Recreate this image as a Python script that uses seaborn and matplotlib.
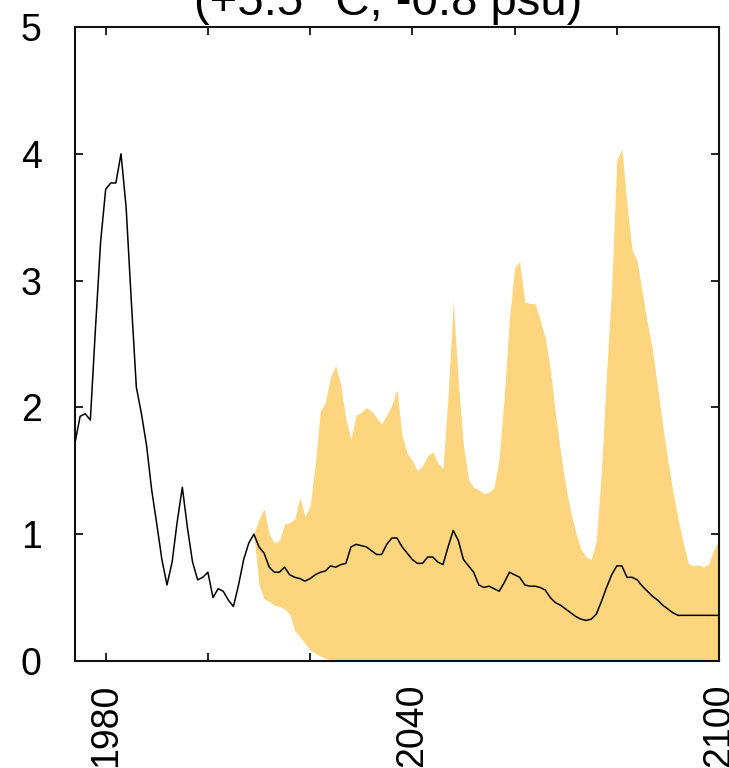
import numpy as np
import pandas as pd
import matplotlib
matplotlib.use("Agg")
import matplotlib.pyplot as plt
import seaborn as sns

# Historical reconstruction, 1974-2009
hist_years = list(range(1974, 2010))
hist_values = [1.72, 1.93, 1.95, 1.90, 2.62, 3.30, 3.72, 3.77, 3.77, 4.00,
               3.58, 2.85, 2.16, 1.95, 1.70, 1.35, 1.08, 0.80, 0.60, 0.78,
               1.10, 1.37, 1.05, 0.78, 0.64, 0.66, 0.70, 0.50, 0.57, 0.55,
               0.48, 0.43, 0.60, 0.80, 0.93, 1.00]

# Scenario projection, 2010-2100: ensemble mean
proj_years = list(range(2010, 2101))
proj_mean = [0.90, 0.85, 0.74, 0.70, 0.70, 0.74, 0.68, 0.66, 0.65, 0.63,
             0.65, 0.68, 0.70, 0.71, 0.75, 0.74, 0.76, 0.77, 0.90, 0.92,
             0.91, 0.90, 0.87, 0.84, 0.84, 0.92, 0.97, 0.97, 0.90, 0.85,
             0.80, 0.77, 0.77, 0.82, 0.82, 0.78, 0.76, 0.90, 1.03, 0.95,
             0.80, 0.75, 0.70, 0.60, 0.58, 0.59, 0.57, 0.55, 0.62, 0.70,
             0.68, 0.66, 0.60, 0.59, 0.59, 0.58, 0.56, 0.50, 0.46, 0.44,
             0.41, 0.38, 0.35, 0.33, 0.32, 0.33, 0.37, 0.47, 0.58, 0.68,
             0.75, 0.75, 0.66, 0.66, 0.64, 0.59, 0.55, 0.51, 0.48, 0.44,
             0.41, 0.38, 0.36, 0.36, 0.36, 0.36, 0.36, 0.36, 0.36, 0.36,
             0.36]

# Ensemble spread, 2009-2100
band_years = list(range(2009, 2101))
band_upper = [1.00, 1.12, 1.20, 1.00, 0.93, 0.95, 1.08, 1.09, 1.12, 1.29,
              1.14, 1.22, 1.55, 1.97, 2.04, 2.24, 2.33, 2.18, 1.90, 1.75,
              1.94, 1.96, 2.00, 1.97, 1.92, 1.87, 1.94, 2.02, 2.14, 1.77,
              1.64, 1.58, 1.50, 1.54, 1.62, 1.65, 1.56, 1.52, 2.10, 2.84,
              2.20, 1.70, 1.43, 1.37, 1.35, 1.32, 1.33, 1.37, 1.60, 2.10,
              2.70, 3.10, 3.15, 2.83, 2.82, 2.82, 2.69, 2.55, 2.30, 1.95,
              1.65, 1.38, 1.17, 1.01, 0.88, 0.82, 0.80, 0.95, 1.50, 2.27,
              2.95, 3.95, 4.04, 3.60, 3.24, 3.15, 2.90, 2.66, 2.45, 2.15,
              1.85, 1.58, 1.33, 1.12, 0.93, 0.77, 0.75, 0.76, 0.74, 0.77,
              0.88, 0.95]
band_lower = [1.00, 0.60, 0.49, 0.47, 0.44, 0.43, 0.41, 0.37, 0.24, 0.19,
              0.14, 0.09, 0.06, 0.04, 0.02, 0.01] + [0.0] * 76

title_text = "(+5.5 °C, -0.8 psu)"
x_ticks = [1980, 2000, 2020, 2040, 2060, 2080, 2100]
x_ticklabels = ["1980", "", "", "2040", "", "", "2100"]
y_ticks = [0, 1, 2, 3, 4, 5]

sns.set_theme(style="ticks")
plt.rcParams["font.family"] = ["Liberation Sans", "DejaVu Sans"]
plt.rcParams["text.color"] = "black"
plt.rcParams["xtick.color"] = "black"
plt.rcParams["ytick.color"] = "black"

series = pd.DataFrame({
    "year": hist_years + proj_years,
    "value": hist_values + proj_mean,
})
band = pd.DataFrame({"year": band_years, "upper": band_upper, "lower": band_lower})

fig = plt.figure(figsize=(7.29, 7.68), dpi=100)
ax = fig.add_axes([75 / 729, 1 - 661 / 768, (719 - 75) / 729, (661 - 27) / 768])

ax.fill_between(band["year"], band["lower"], band["upper"],
                color="#FDD57F", linewidth=0, zorder=1)
sns.lineplot(data=series, x="year", y="value", ax=ax,
             color="black", linewidth=1.1, zorder=3)

ax.set_xlim(1974, 2100)
ax.set_ylim(0, 5)
ax.set_xticks(x_ticks)
ax.set_xticklabels(x_ticklabels, rotation=90)
ax.set_yticks(y_ticks)
ax.set_xlabel("")
ax.set_ylabel("")

ax.tick_params(axis="y", which="both", direction="in", length=6, width=1.3,
               left=True, right=True, labelsize=27, pad=24,
               color="#111111", labelcolor="black")
ax.tick_params(axis="x", which="both", direction="in", length=6, width=1.3,
               bottom=True, top=True, labelsize=27, pad=16,
               color="#111111", labelcolor="black")
for side in ["left", "right", "top", "bottom"]:
    ax.spines[side].set_visible(True)
    ax.spines[side].set_linewidth(1.5)
    ax.spines[side].set_color("#111111")

fig.text(388 / 729, 1 - 15 / 768, title_text, ha="center", va="baseline",
         fontsize=34, color="black")

fig.savefig("out.png", dpi=100)
